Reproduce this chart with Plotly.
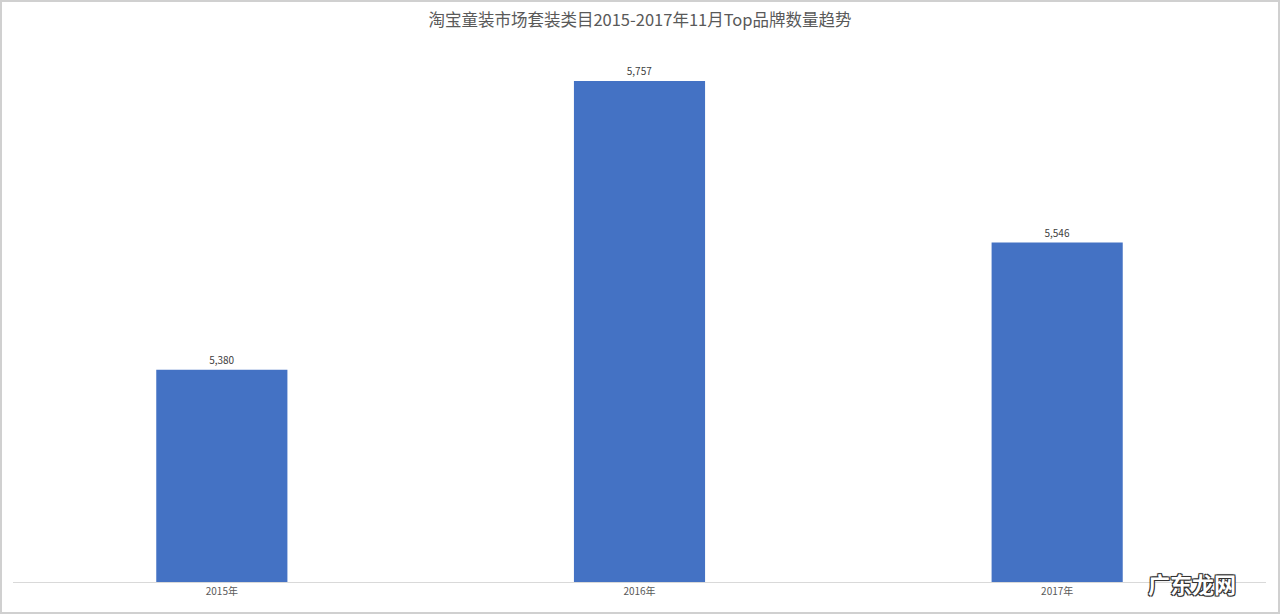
import plotly.graph_objects as go

categories = ["2015年", "2016年", "2017年"]
values = [5380, 5757, 5546]
value_labels = ["5,380", "5,757", "5,546"]

fig = go.Figure()
fig.add_trace(go.Bar(
    x=categories,
    y=values,
    marker=dict(color="#4472C4", line=dict(width=0)),
    text=value_labels,
    textposition="outside",
    cliponaxis=False,
    textfont=dict(size=10, color="#404040", family="Noto Sans CJK SC"),
    hoverinfo="x+y",
))

fig.update_layout(
    width=1280, height=614,
    paper_bgcolor="white", plot_bgcolor="white",
    margin=dict(l=13, r=14, t=48, b=32),
    bargap=0.686,
    showlegend=False,
    title=dict(
        text="淘宝童装市场套装类目2015-2017年11月Top品牌数量趋势",
        x=0.5, xanchor="center", y=0.967, yanchor="middle",
        font=dict(size=16.5, color="#595959", family="Noto Sans CJK SC"),
    ),
    font=dict(family="Noto Sans CJK SC", color="#595959"),
    xaxis=dict(
        showline=True, linecolor="#d9d9d9", linewidth=1,
        ticks="", tickfont=dict(size=10, color="#595959"),
        showgrid=False, zeroline=False,
    ),
    yaxis=dict(
        range=[5103, 5800], visible=False, showgrid=False, zeroline=False,
    ),
    shapes=[
        dict(type="rect", xref="paper", yref="paper",
             x0=-12/1253, x1=1+13/1253, y0=-31/534, y1=1+47/534,
             line=dict(color="#d0d0d0", width=2), fillcolor="rgba(0,0,0,0)"),
    ],
    annotations=[
        dict(text="<b>广东龙网</b>", xref="paper", yref="paper",
             x=(1192-13)/1253, y=-0.002, xanchor="center", yanchor="middle",
             showarrow=False,
             font=dict(size=22, color="white", family="Noto Sans CJK SC",
                       shadow="1px 1px 0 #333, -1px -1px 0 #333, 1px -1px 0 #333, -1px 1px 0 #333, 0 0 2px #333")),
    ],
)

fig.write_html("out.html", config={"displayModeBar": False},
               post_script="document.body.style.margin='0';")
